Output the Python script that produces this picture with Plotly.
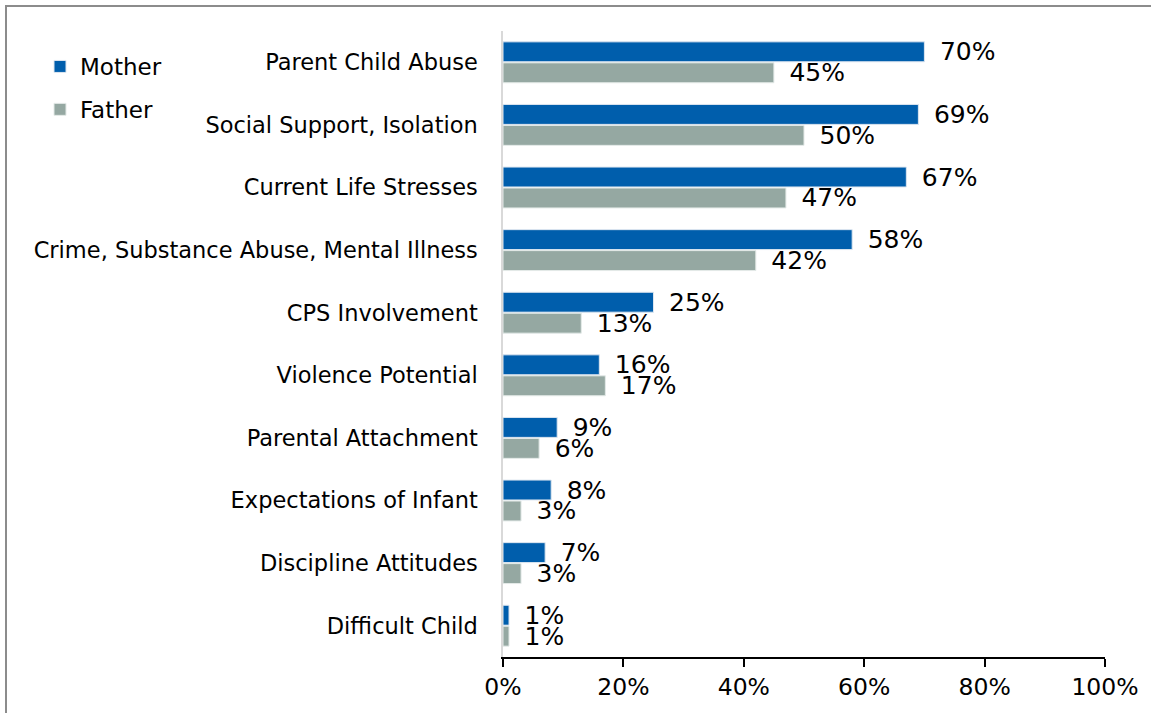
import plotly.graph_objects as go

categories = [
    "Parent Child Abuse",
    "Social Support, Isolation",
    "Current Life Stresses",
    "Crime, Substance Abuse, Mental Illness",
    "CPS Involvement",
    "Violence Potential",
    "Parental Attachment",
    "Expectations of Infant",
    "Discipline Attitudes",
    "Difficult Child",
]
mother = [70, 69, 67, 58, 25, 16, 9, 8, 7, 1]
father = [45, 50, 47, 42, 13, 17, 6, 3, 3, 1]
x_ticks = [0, 20, 40, 60, 80, 100]

FONT = "DejaVu Sans"
W, H = 1151, 713
ML, MR, MT, MB = 503, 46, 31, 56
PW, PH = W - ML - MR, H - MT - MB


def px_x(px):
    return (px - ML) / PW


def px_y(py):
    return 1 - (py - MT) / PH


fig = go.Figure()
fig.add_trace(go.Bar(
    y=categories, x=mother, name="Mother", orientation="h",
    marker=dict(color="#005EAC", line=dict(color="#DDE6F0", width=1)),
    text=[f"\u2002{v}%" for v in mother], textposition="outside",
    textfont=dict(family=FONT, size=25, color="#000000"),
    cliponaxis=False, constraintext="none", legendgroup="m",
))
fig.add_trace(go.Bar(
    y=categories, x=father, name="Father", orientation="h",
    marker=dict(color="#95A8A2", line=dict(color="#E4EAE8", width=1)),
    text=[f"\u2002{v}%" for v in father], textposition="outside",
    textfont=dict(family=FONT, size=25, color="#000000"),
    cliponaxis=False, constraintext="none", legendgroup="f",
))

fig.update_layout(
    width=W, height=H,
    margin=dict(l=ML, r=MR, t=MT, b=MB),
    paper_bgcolor="white", plot_bgcolor="white",
    barmode="group", bargap=0.33, bargroupgap=0.05,
    font=dict(family=FONT, size=22, color="#000000"),
    showlegend=True,
    legend=dict(
        x=px_x(40), y=px_y(45), xanchor="left", yanchor="top",
        font=dict(family=FONT, size=23, color="#000000"),
        tracegroupgap=10, itemwidth=30, bgcolor="rgba(0,0,0,0)",
    ),
    xaxis=dict(
        range=[0, 100], tickvals=x_ticks, ticktext=[f"{v}%" for v in x_ticks],
        showgrid=False, zeroline=False,
        showline=True, linecolor="#000000", linewidth=1.5,
        ticks="outside", ticklen=8, tickcolor="#000000", tickwidth=1.5,
        tickfont=dict(family=FONT, size=23.5, color="#000000"),
    ),
    yaxis=dict(
        autorange="reversed", showgrid=False, zeroline=False,
        showline=True, linecolor="#D9D9D9", linewidth=1.5,
        ticks="", ticklabelstandoff=19,
        tickfont=dict(family=FONT, size=22.5, color="#000000"),
    ),
    shapes=[dict(
        type="rect", xref="paper", yref="paper",
        x0=px_x(6), x1=px_x(1170), y0=px_y(730), y1=px_y(6),
        line=dict(color="#8C8C8C", width=2), layer="above",
    )],
)

fig.write_html("out.html")
